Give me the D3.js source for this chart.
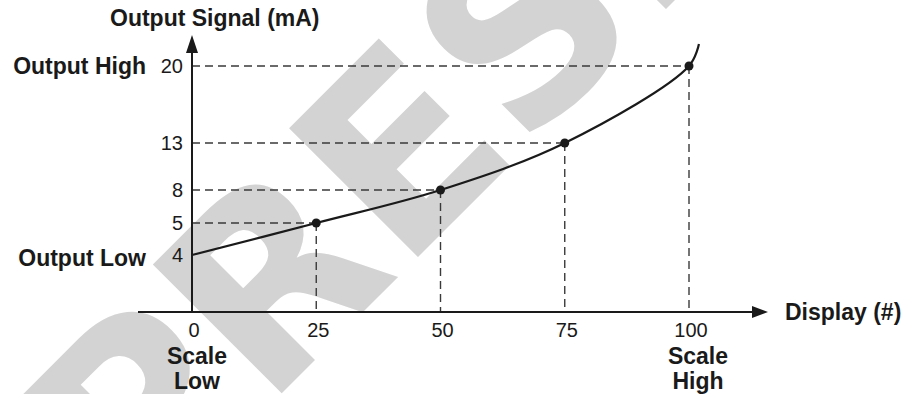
<!DOCTYPE html>
<html><head><meta charset="utf-8">
<script src="https://cdn.jsdelivr.net/npm/d3@7"></script>
<style>body{margin:0;background:#fff}svg{display:block}</style>
</head><body><svg id="c" width="908" height="394"></svg>
<script>
// ---- data ----
const xTicks = [0, 25, 50, 75, 100];
const xTickLabels = ["0", "25", "50", "75", "100"];
const yTicks = [4, 5, 8, 13, 20];
const yTickLabels = ["4", "5", "8", "13", "20"];
const curveX = [0, 25, 50, 75, 100, 102];
const curveY = [4, 5, 8, 13, 20, 22];
const markerX = [25, 50, 75, 100];
const markerY = [5, 8, 13, 20];
const xTitle = "Display (#)";
const yTitle = "Output Signal (mA)";
const yHighLabel = "Output High";
const yLowLabel = "Output Low";
const scaleLowLabel = ["Scale", "Low"];
const scaleHighLabel = ["Scale", "High"];
const watermark = "PRESET";

// ---- layout ----
const svg = d3.select("#c");
const FONT = "Arial, 'Liberation Sans', Helvetica, sans-serif";
const x = d3.scaleLinear().domain([0, 100]).range([192, 689]);
// schematic (non-uniform) output axis
const y = d3.scaleLinear().domain([0, 4, 5, 8, 13, 20, 22]).range([312, 255, 223, 190, 143, 66, 44]);

// watermark
svg.append("text")
  .attr("transform", "translate(136,539) rotate(-45)")
  .attr("font-family", "'DejaVu Sans', sans-serif").attr("font-weight", "bold").attr("font-size", 250)
  .attr("fill", "#d3d3d3").text(watermark);

const ink = "#1a1a1a";
const dashCol = "#3a3a3a";

// dashed guides
const pts = markerX.map((v, i) => ({x: v, y: markerY[i]}));
svg.append("g").selectAll("line.h").data(pts).join("line")
  .attr("x1", x(0)).attr("x2", d => x(d.x))
  .attr("y1", d => y(d.y)).attr("y2", d => y(d.y))
  .attr("stroke", dashCol).attr("stroke-width", 1.4).attr("stroke-dasharray", "8,5");
svg.append("g").selectAll("line.v").data(pts).join("line")
  .attr("x1", d => x(d.x)).attr("x2", d => x(d.x))
  .attr("y1", d => y(d.y)).attr("y2", y(0))
  .attr("stroke", dashCol).attr("stroke-width", 1.4).attr("stroke-dasharray", "8,5");

// axes
svg.append("line").attr("x1", 138).attr("x2", 756).attr("y1", y(0)).attr("y2", y(0))
  .attr("stroke", ink).attr("stroke-width", 2);
svg.append("path").attr("d", `M768,${y(0)} L752,${y(0)-6} L752,${y(0)+6} Z`).attr("fill", ink);
svg.append("line").attr("x1", x(0)).attr("x2", x(0)).attr("y1", y(0)).attr("y2", 50)
  .attr("stroke", ink).attr("stroke-width", 2);
svg.append("path").attr("d", `M${x(0)},35 L${x(0)-6},53 L${x(0)+6},53 Z`).attr("fill", ink);

// curve
const line = d3.line().x(d => x(d[0])).y(d => y(d[1])).curve(d3.curveCatmullRom.alpha(0.5));
svg.append("path").datum(curveX.map((v, i) => [v, curveY[i]]))
  .attr("d", line).attr("fill", "none").attr("stroke", ink).attr("stroke-width", 2.2);

// markers
svg.append("g").selectAll("circle").data(pts).join("circle")
  .attr("cx", d => x(d.x)).attr("cy", d => y(d.y)).attr("r", 4.5).attr("fill", ink);

// tick labels
svg.append("g").selectAll("text").data(xTicks).join("text")
  .attr("x", d => x(d) + 2).attr("y", y(0) + 25)
  .attr("text-anchor", "middle").attr("font-family", FONT).attr("font-size", 20)
  .attr("fill", ink).text((d, i) => xTickLabels[i]);
svg.append("g").selectAll("text").data(yTicks).join("text")
  .attr("x", x(0) - 9).attr("y", d => y(d) + 7)
  .attr("text-anchor", "end").attr("font-family", FONT).attr("font-size", 20)
  .attr("fill", ink).text((d, i) => yTickLabels[i]);

// bold labels
function bold(txt, xx, yy, anchor) {
  svg.append("text").attr("x", xx).attr("y", yy).attr("text-anchor", anchor)
    .attr("font-family", FONT).attr("font-weight", "bold").attr("font-size", 23)
    .attr("fill", ink).text(txt);
}
bold(yTitle, 110, 26, "start");
bold(xTitle, 785, y(0) + 8, "start");
bold(yHighLabel, 146, y(20) + 8, "end");
bold(yLowLabel, 146, y(4) + 11, "end");
bold(scaleLowLabel[0], x(0) + 5, 364, "middle");
bold(scaleLowLabel[1], x(0) + 5, 389, "middle");
bold(scaleHighLabel[0], x(100) + 9, 364, "middle");
bold(scaleHighLabel[1], x(100) + 9, 389, "middle");
</script></body></html>
